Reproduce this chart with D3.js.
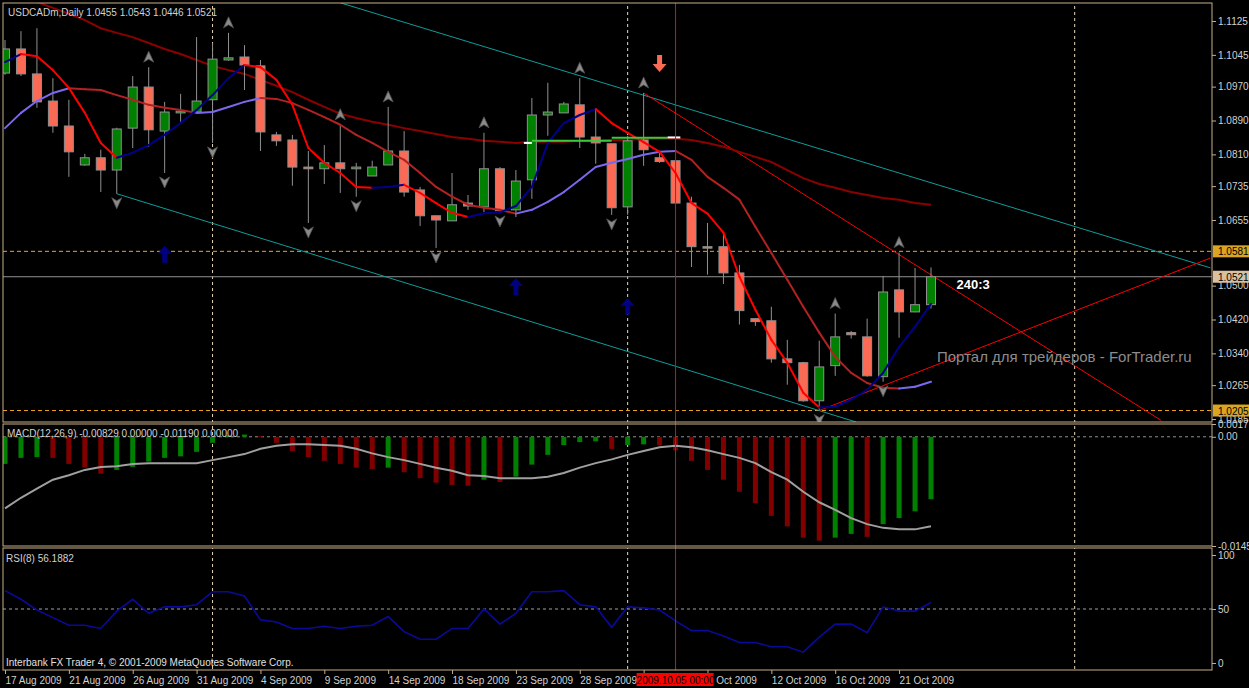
<!DOCTYPE html>
<html>
<head>
<meta charset="utf-8">
<script src="https://cdn.jsdelivr.net/npm/d3@7"></script>
<style>
  body { margin: 0; background: #000; }
  svg { display: block; font-family: "Liberation Sans", Arial, sans-serif; }
</style>
</head>
<body>
<svg id="chart" width="1249" height="688"></svg>
<script>
// ---- data ----
let opens  = [1.1002,1.1059,1.1000,1.0936,1.0877,1.0785,1.0802,1.0773,1.0872,1.0969,1.0865,1.0908,1.0910,1.0939,1.1033,1.1040,1.1019,1.0856,1.0844,1.0780,1.0776,1.0790,1.0776,1.0759,1.0785,1.0818,1.0726,1.0665,1.0653,1.0695,1.0686,1.0776,1.0679,1.0750,1.0903,1.0908,1.0927,1.0851,1.0835,1.0686,1.0844,1.0802,1.0795,1.0695,1.0592,1.0592,1.0530,1.0422,1.0417,1.0327,1.0318,1.0228,1.0311,1.0389,1.0379,1.0285,1.0490,1.0438,1.0455];
let highs  = [1.1080,1.1101,1.1108,1.0990,1.0939,1.0811,1.0821,1.0873,1.0995,1.1016,1.0934,1.0953,1.1087,1.1073,1.1097,1.1068,1.1033,1.0863,1.0856,1.0818,1.0832,1.0880,1.0790,1.0795,1.0922,1.0865,1.0733,1.0665,1.0766,1.0714,1.0861,1.0780,1.0773,1.0943,1.0979,1.0934,1.0990,1.0917,1.0835,1.0854,1.0955,1.0816,1.0797,1.0710,1.0648,1.0627,1.0549,1.0422,1.0450,1.0372,1.0320,1.0370,1.0434,1.0393,1.0422,1.0523,1.0578,1.0542,1.0543];
let lows   = [1.0998,1.0995,1.0920,1.0861,1.0757,1.0783,1.0721,1.0717,1.0825,1.0828,1.0766,1.0887,1.0908,1.0837,1.1031,1.0962,1.0818,1.0830,1.0736,1.0648,1.0740,1.0719,1.0710,1.0759,1.0785,1.0710,1.0641,1.0589,1.0653,1.0679,1.0674,1.0674,1.0662,1.0705,1.0854,1.0908,1.0825,1.0788,1.0667,1.0667,1.0783,1.0790,1.0693,1.0544,1.0526,1.0504,1.0408,1.0405,1.0318,1.0266,1.0226,1.0205,1.0287,1.0375,1.0285,1.0273,1.0377,1.0437,1.0446];
let closes = [1.1059,1.1000,1.0934,1.0877,1.0816,1.0802,1.0773,1.0870,1.0969,1.0868,1.0910,1.0912,1.0936,1.1035,1.1038,1.1021,1.0863,1.0842,1.0780,1.0776,1.0790,1.0776,1.0780,1.0780,1.0818,1.0721,1.0665,1.0655,1.0691,1.0688,1.0776,1.0677,1.0747,1.0903,1.0910,1.0929,1.0851,1.0837,1.0684,1.0842,1.0821,1.0793,1.0695,1.0592,1.0591,1.0530,1.0441,1.0415,1.0327,1.0318,1.0228,1.0308,1.0379,1.0384,1.0287,1.0485,1.0438,1.0455,1.0521];

let fastLine = [1.1028,1.1047,1.1042,1.1009,1.0967,1.0908,1.0837,1.0802,1.0814,1.0832,1.0856,1.0884,1.0915,1.0950,1.0990,1.1021,1.1016,1.0986,1.0927,1.0825,1.0790,1.0766,1.0733,1.0731,1.0733,1.0738,1.0719,1.0695,1.0672,1.0662,1.0671,1.0673,1.0688,1.0733,1.0837,1.0884,1.0903,1.0917,1.0884,1.0861,1.0839,1.0816,1.0766,1.0695,1.0670,1.0625,1.0521,1.0443,1.0372,1.0318,1.0247,1.0212,1.0214,1.0231,1.0254,1.0294,1.0355,1.0403,1.0457];
let slowLine = [1.0872,1.0908,1.0936,1.0955,1.0966,1.0964,1.0962,1.0950,1.0939,1.0927,1.0920,1.0915,1.0908,1.0910,1.0922,1.0934,1.0943,1.0941,1.0931,1.0915,1.0898,1.0880,1.0856,1.0837,1.0816,1.0797,1.0766,1.0733,1.0710,1.0691,1.0684,1.0679,1.0670,1.0679,1.0698,1.0721,1.0750,1.0780,1.0790,1.0799,1.0809,1.0816,1.0818,1.0797,1.0757,1.0731,1.0703,1.0639,1.0577,1.0514,1.0450,1.0389,1.0332,1.0294,1.0270,1.0259,1.0257,1.0261,1.0273];
let longMA   = [1.1196,1.1184,1.1170,1.1156,1.1142,1.1127,1.1108,1.1097,1.1087,1.1073,1.1059,1.1047,1.1033,1.1019,1.1009,1.1000,1.0986,1.0972,1.0957,1.0939,1.0922,1.0906,1.0896,1.0887,1.0880,1.0872,1.0865,1.0858,1.0851,1.0847,1.0842,1.0840,1.0837,1.0840,1.0840,1.0840,1.0842,1.0842,1.0844,1.0844,1.0847,1.0847,1.0847,1.0844,1.0837,1.0828,1.0816,1.0804,1.0792,1.0773,1.0754,1.0740,1.0731,1.0721,1.0714,1.0707,1.0703,1.0695,1.0691];

// flat level segments: [fromBar, toBar, price, colour]
let levelSegments = [[32.5,33,1.0837,"#ffffff"],[33,38,1.0842,"#3cc83c"],[38,41.5,1.0849,"#3cc83c"],[41.5,42.3,1.0850,"#ffffff"]];

let fractalUp   = [9,14,21,24,30,36,40,52,56];
let fractalDown = [7,10,13,19,22,27,31,38,51,55];
let buyArrows   = [[10,1.0573],[32,1.0497],[39,1.0450]];
let sellArrows  = [[41,1.1026]];

// trend lines: [bar1, price1, bar2, price2, colour]
let trendLines = [
  [21,1.1168,75.5,1.0542,"#0f9c9c"],
  [7,1.0717,53.3,1.0178,"#0f9c9c"],
  [40,1.0955,72.4,1.0182,"#ff0000"],
  [51,1.0205,75.5,1.0565,"#ff0000"]
];
let dashedLevels = [1.0581,1.0205];
let bidPrice = 1.0521;
let dottedBars = [13,39,67];
let crossBar = 42;

let macdHist = [-0.0036,-0.0028,-0.0027,-0.0028,-0.0036,-0.0041,-0.0049,-0.0044,-0.0040,-0.0033,-0.0028,-0.0026,-0.0020,-0.0008,0.0002,0.0003,0.0001,-0.0008,-0.0019,-0.0027,-0.0032,-0.0036,-0.0041,-0.0043,-0.0041,-0.0047,-0.0055,-0.0061,-0.0064,-0.0065,-0.0057,-0.0060,-0.0053,-0.0037,-0.0024,-0.0011,-0.0007,-0.0006,-0.0016,-0.0011,-0.0010,-0.0011,-0.0018,-0.0032,-0.0044,-0.0057,-0.0073,-0.0088,-0.0105,-0.0119,-0.0134,-0.0138,-0.0134,-0.0129,-0.0133,-0.0116,-0.0108,-0.0099,-0.00829];
let macdSignal = [-0.0095,-0.0081,-0.0069,-0.0057,-0.0051,-0.0044,-0.0040,-0.0039,-0.0036,-0.0035,-0.0035,-0.0035,-0.0035,-0.0031,-0.0027,-0.0023,-0.0016,-0.0012,-0.0010,-0.0010,-0.0011,-0.0012,-0.0016,-0.0022,-0.0027,-0.0031,-0.0036,-0.0041,-0.0045,-0.0051,-0.0052,-0.0055,-0.0055,-0.0055,-0.0053,-0.0048,-0.0041,-0.0035,-0.0030,-0.0024,-0.0019,-0.0014,-0.0012,-0.0014,-0.0018,-0.0023,-0.0028,-0.0035,-0.0047,-0.0057,-0.0073,-0.0087,-0.0097,-0.0108,-0.0116,-0.0121,-0.0123,-0.0123,-0.0119];
let rsi = [67,59,49,42,35,35,32,48,59,46,52,52,54,66,66,62,40,38,32,32,34,32,34,35,43,29,22,22,32,32,50,36,46,66,66,67,54,52,33,52,51,49,39,30,30,25,19,19,15,15,10,24,36,36,28,52,48,48,56];

let priceTicks = [1.1125,1.1045,1.0970,1.0890,1.0810,1.0735,1.0655,1.0500,1.0420,1.0340,1.0265,1.0185];
let dateTickBars = [0,4,8,12,16,20,24,28,32,36,40,44,48,52,56];
let dateLabels = ["17 Aug 2009","21 Aug 2009","26 Aug 2009","31 Aug 2009","4 Sep 2009","9 Sep 2009","14 Sep 2009","18 Sep 2009","23 Sep 2009","28 Sep 2009","1 Oct 2009","7 Oct 2009","12 Oct 2009","16 Oct 2009","21 Oct 2009"];

// ---- layout ----
let svg = d3.select('#chart');
let frame = "#c8ad86";
let left = 3, right = 1212;
let panes = {main: [3, 422], macd: [424, 546], rsi: [548, 670]};

svg.append("rect").attr("width", 1249).attr("height", 688).attr("fill", "#000");

let x = d3.scaleLinear().domain([0, 58]).range([5, 931]);
let y = d3.scaleLinear().domain([1.0185, 1.1125]).range([419, 21]);
let ym = d3.scaleLinear().domain([-0.01451, 0.0017]).range([546, 424]);
let yr = d3.scaleLinear().domain([0, 100]).range([663, 555]);

let defs = svg.append("defs");
Object.entries(panes).forEach(([k, p]) => {
    defs.append("clipPath").attr("id", "clip-" + k)
        .append("rect").attr("x", left).attr("y", p[0]).attr("width", right - left).attr("height", p[1] - p[0]);
});

let main = svg.append("g").attr("clip-path", "url(#clip-main)");
let macdG = svg.append("g").attr("clip-path", "url(#clip-macd)");
let rsiG = svg.append("g").attr("clip-path", "url(#clip-rsi)");

// dotted vertical separators in all panes
[main, macdG, rsiG].forEach(g => {
    g.selectAll(null).data(dottedBars).enter().append("line")
        .attr("x1", d => x(d)).attr("x2", d => x(d)).attr("y1", 0).attr("y2", 688)
        .attr("stroke", "#e8d8b8").attr("stroke-dasharray", "3,3");
});

// horizontal dashed levels + bid line
main.selectAll(null).data(dashedLevels).enter().append("line")
    .attr("x1", left).attr("x2", right).attr("y1", d => y(d)).attr("y2", d => y(d))
    .attr("stroke", "#f0a818").attr("stroke-dasharray", "4,3");
main.append("line").attr("x1", left).attr("x2", right).attr("y1", y(bidPrice)).attr("y2", y(bidPrice))
    .attr("stroke", "#909090");

// trend lines
main.selectAll(null).data(trendLines).enter().append("line")
    .attr("x1", d => x(d[0])).attr("y1", d => y(d[1])).attr("x2", d => x(d[2])).attr("y2", d => y(d[3]))
    .attr("stroke", d => d[4]).attr("stroke-width", 1);

// long moving average
main.append("path").datum(longMA)
    .attr("d", d3.line().x((d, i) => x(i)).y(d => y(d)))
    .attr("fill", "none").attr("stroke", "#8b0000").attr("stroke-width", 2);

// candles
let bars = d3.range(opens.length);
main.selectAll(".wick").data(bars).enter().append("line")
    .attr("x1", i => x(i)).attr("x2", i => x(i))
    .attr("y1", i => y(highs[i])).attr("y2", i => y(lows[i]))
    .attr("stroke", "#909090");
main.selectAll(".body").data(bars).enter().append("rect")
    .attr("x", i => x(i) - 4.5).attr("width", 9)
    .attr("y", i => y(Math.max(opens[i], closes[i])))
    .attr("height", i => Math.max(1.5, Math.abs(y(opens[i]) - y(closes[i]))))
    .attr("fill", i => closes[i] >= opens[i] ? "#008000" : "#fa6a55")
    .attr("stroke", "#909090");

// two-colour smoothed lines
let drawTwoTone = (vals, upColor, downColor) => {
    main.selectAll(null).data(d3.range(vals.length - 1)).enter().append("line")
        .attr("x1", i => x(i)).attr("y1", i => y(vals[i]))
        .attr("x2", i => x(i + 1)).attr("y2", i => y(vals[i + 1]))
        .attr("stroke", i => vals[i + 1] >= vals[i] ? upColor : downColor)
        .attr("stroke-width", 2).attr("stroke-linecap", "round");
};
drawTwoTone(slowLine, "#7b68ee", "#b22222");
drawTwoTone(fastLine, "#00008b", "#ff0000");

// flat level segments
main.selectAll(null).data(levelSegments).enter().append("line")
    .attr("x1", d => x(d[0])).attr("x2", d => x(d[1])).attr("y1", d => y(d[2])).attr("y2", d => y(d[2]))
    .attr("stroke", d => d[3]).attr("stroke-width", 2);

// fractals
let chevron = "M0,-6 L5,5 L0,2 L-5,5 Z";
main.selectAll(null).data(fractalUp).enter().append("path")
    .attr("d", chevron)
    .attr("transform", i => "translate(" + [x(i), y(highs[i]) - 10] + ")")
    .attr("fill", "#8a8a8a").attr("stroke", "#505050").attr("stroke-width", 0.8);
main.selectAll(null).data(fractalDown).enter().append("path")
    .attr("d", chevron)
    .attr("transform", i => "translate(" + [x(i), y(lows[i]) + 9] + ") rotate(180)")
    .attr("fill", "#8a8a8a").attr("stroke", "#505050").attr("stroke-width", 0.8);

// signal arrows
let bigArrow = "M0,-9 L7,-1 L2.5,-1 L2.5,8 L-2.5,8 L-2.5,-1 L-7,-1 Z";
main.selectAll(null).data(buyArrows).enter().append("path")
    .attr("d", bigArrow).attr("transform", d => "translate(" + [x(d[0]), y(d[1])] + ")")
    .attr("fill", "#000080");
main.selectAll(null).data(sellArrows).enter().append("path")
    .attr("d", bigArrow).attr("transform", d => "translate(" + [x(d[0]), y(d[1])] + ") rotate(180)")
    .attr("fill", "#fa6a55");

// texts in main pane
main.append("text").attr("x", 937).attr("y", 362).attr("fill", "#8c8c8c")
    .style("font-size", "15px").text("Портал для трейдеров - ForTrader.ru");
main.append("text").attr("x", x(59.6)).attr("y", y(bidPrice) + 12).attr("fill", "#fff")
    .style("font-size", "13px").style("font-weight", "bold").text("240:3");
svg.append("text").attr("x", 8).attr("y", 16).attr("fill", "#d0d0d0").style("font-size", "10px")
    .text("USDCADm,Daily  1.0455 1.0543 1.0446 1.0521");

// crosshair vertical
svg.append("line").attr("x1", x(crossBar)).attr("x2", x(crossBar)).attr("y1", 3).attr("y2", 670)
    .attr("stroke", "#ff0000");

// ---- MACD ----
macdG.append("line").attr("x1", left).attr("x2", right).attr("y1", ym(0)).attr("y2", ym(0))
    .attr("stroke", "#909090").attr("stroke-dasharray", "3,3");
macdG.selectAll(null).data(bars).enter().append("rect")
    .attr("x", i => x(i) - 2.5).attr("width", 5)
    .attr("y", i => Math.min(ym(0), ym(macdHist[i])))
    .attr("height", i => Math.abs(ym(macdHist[i]) - ym(0)))
    .attr("fill", i => (i === 0 || macdHist[i] > macdHist[i - 1]) ? "#008000" : "#800000");
macdG.append("path").datum(macdSignal)
    .attr("d", d3.line().x((d, i) => x(i)).y(d => ym(d)))
    .attr("fill", "none").attr("stroke", "#a0a0a0").attr("stroke-width", 2);
svg.append("text").attr("x", 7).attr("y", 437).attr("fill", "#d0d0d0").style("font-size", "10px")
    .text("MACD(12,26,9) -0.00829 0.00000 -0.01190 0.00000");

// ---- RSI ----
rsiG.append("line").attr("x1", left).attr("x2", right).attr("y1", yr(50)).attr("y2", yr(50))
    .attr("stroke", "#a0a0a0").attr("stroke-dasharray", "3,3");
rsiG.append("path").datum(rsi)
    .attr("d", d3.line().x((d, i) => x(i)).y(d => yr(d)))
    .attr("fill", "none").attr("stroke", "#0a0a9a").attr("stroke-width", 1.6);
svg.append("text").attr("x", 6).attr("y", 562).attr("fill", "#d0d0d0").style("font-size", "10px").text("RSI(8) 56.1882");
svg.append("text").attr("x", 6).attr("y", 666).attr("fill", "#e0e0e0").style("font-size", "10px")
    .text("Interbank FX Trader 4, © 2001-2009 MetaQuotes Software Corp.");

// ---- frames ----
Object.values(panes).forEach(p => {
    svg.append("rect").attr("x", left).attr("y", p[0]).attr("width", right - left).attr("height", p[1] - p[0])
        .attr("fill", "none").attr("stroke", frame);
});

// ---- axes ----
let styleAxis = (g) => {
    g.select(".domain").remove();
    g.selectAll("line").attr("stroke", frame);
    g.selectAll("text").attr("fill", "#d0d0d0").style("font-size", "10px")
        .style("font-family", "Liberation Sans, Arial, sans-serif");
};
svg.append("g").attr("transform", "translate(" + right + ",0)")
    .call(d3.axisRight(y).tickValues(priceTicks).tickFormat(d3.format(".4f")).tickSize(4).tickPadding(2))
    .call(styleAxis);
svg.append("g").attr("transform", "translate(" + right + ",0)")
    .call(d3.axisRight(ym).tickValues([0.0017, 0, -0.01451]).tickFormat(d => d === 0 ? "0.00" : d === 0.0017 ? "0.0017" : "-0.01451").tickSize(4).tickPadding(2))
    .call(styleAxis);
svg.append("g").attr("transform", "translate(" + right + ",0)")
    .call(d3.axisRight(yr).tickValues([100, 50, 0]).tickSize(4).tickPadding(2))
    .call(styleAxis);

// price boxes
let boxes = [[1.0581, "#daa520"], [1.0521, "#d8c0a0"], [1.0205, "#daa520"]];
boxes.forEach(b => {
    svg.append("rect").attr("x", right + 1).attr("y", y(b[0]) - 6).attr("width", 36).attr("height", 12).attr("fill", b[1]);
    svg.append("text").attr("x", right + 6).attr("y", y(b[0]) + 4).attr("fill", "#000").style("font-size", "10px").text(b[0].toFixed(4));
});

// date axis
let xAxis = svg.append("g").attr("transform", "translate(0,670)")
    .call(d3.axisBottom(x).tickValues(dateTickBars).tickFormat((d, i) => dateLabels[i]).tickSize(4).tickPadding(3))
    .call(styleAxis);
xAxis.selectAll("text").attr("text-anchor", "start").attr("dx", 0);
// crosshair date label
svg.append("rect").attr("x", x(crossBar) - 39).attr("y", 673).attr("width", 77).attr("height", 13).attr("fill", "#ff0000");
svg.append("text").attr("x", x(crossBar)).attr("y", 684).attr("text-anchor", "middle").attr("fill", "#000")
    .style("font-size", "10px").text("2009.10.05 00:00");
</script>
</body>
</html>
